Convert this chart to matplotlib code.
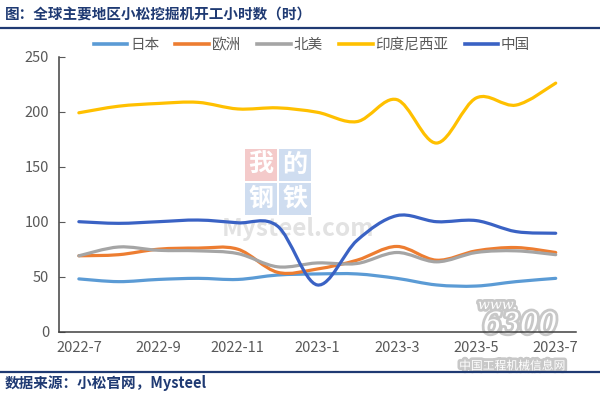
import matplotlib
matplotlib.use("Agg")
import matplotlib.pyplot as plt
from matplotlib.path import Path
from matplotlib.patches import PathPatch, Rectangle
from matplotlib.lines import Line2D
import matplotlib.patheffects as pe

plt.rcParams['font.family'] = ['Noto Sans CJK SC', 'DejaVu Sans']

months = ['2022-7', '2022-8', '2022-9', '2022-10', '2022-11', '2022-12', '2023-1',
          '2023-2', '2023-3', '2023-4', '2023-5', '2023-6', '2023-7']
japan = [48, 45.5, 47.5, 48.5, 47.5, 51.5, 52.5, 52.5, 48.5, 42.5, 41.5, 45.5, 48.5]
europe = [69, 70, 75, 76, 75, 54, 57, 65, 77.5, 65, 73.5, 76.5, 72]
north_america = [69, 77, 74, 73.5, 71, 59, 62.5, 62, 72, 63.5, 72, 73.5, 70]
indonesia = [199, 205, 207.5, 208.5, 202.5, 203.5, 199.5, 191, 211, 171.5, 212.5, 206, 226]
china = [100, 98.5, 100, 101.5, 99, 96, 42.5, 83, 105.5, 100, 101, 91, 89.5]

series_names = ['日本', '欧洲', '北美', '印度尼西亚', '中国']
series_values = [japan, europe, north_america, indonesia, china]
colors = ['#5B9BD5', '#ED7D31', '#A5A5A5', '#FFC000', '#3A62C4']
navy = '#1F3A73'
grey_txt = '#595959'


def smooth_path(xs, ys):
    # bezier segments like excel's smoothed line
    n = len(xs)
    verts = [(xs[0], ys[0])]
    codes = [Path.MOVETO]
    for i in range(n - 1):
        i0 = max(i - 1, 0)
        i3 = min(i + 2, n - 1)
        c1 = (xs[i] + (xs[i + 1] - xs[i0]) / 6, ys[i] + (ys[i + 1] - ys[i0]) / 6)
        c2 = (xs[i + 1] - (xs[i3] - xs[i]) / 6, ys[i + 1] - (ys[i3] - ys[i]) / 6)
        verts += [c1, c2, (xs[i + 1], ys[i + 1])]
        codes += [Path.CURVE4] * 3
    return Path(verts, codes)


fig = plt.figure(figsize=(6, 3.96), dpi=100)
ax = fig.add_axes([0.0983, 0.1624, 0.861, 0.6944])

x = list(range(len(months)))

# watermark in the plot area
for (cx, cy, c, ch) in [(0, 0, '#F4CACA', '我'), (1, 0, '#CFDDF0', '的'),
                        (0, 1, '#CFDDF0', '钢'), (1, 1, '#CFDDF0', '铁')]:
    px = (245 + cx * 34) / 600
    py = 1 - (148 + cy * 34 + 33) / 396
    fig.patches.append(Rectangle((px, py), 32 / 600, 32 / 396, transform=fig.transFigure,
                                 facecolor=c, edgecolor='none', zorder=-2))
    fig.text(px + 16 / 600, py + 16 / 396, ch, color='white', fontsize=18,
             ha='center', va='center', fontweight='bold', zorder=-1)
fig.text(222 / 600, 1 - 229 / 396, 'Mysteel.com', color='#E2E2E2', fontsize=17.5,
         ha='left', va='center', fontweight='bold', zorder=-1)

for name, vals, col in zip(series_names, series_values, colors):
    ax.add_patch(PathPatch(smooth_path(x, vals), fill=False, edgecolor=col,
                           linewidth=2.3, capstyle='round', zorder=3))

ax.set_xlim(-0.5, 12.5)
ax.set_ylim(0, 250)
ax.set_xticks(x[::2])
ax.set_xticklabels(months[::2])
ax.set_yticks([0, 50, 100, 150, 200, 250])
ax.tick_params(axis='x', length=0, labelsize=10.5, labelcolor=grey_txt, pad=7)
ax.tick_params(axis='y', direction='in', length=4, color=grey_txt, labelsize=10.5,
               labelcolor=grey_txt, pad=7)
for s in ['top', 'right']:
    ax.spines[s].set_visible(False)
for s in ['left', 'bottom']:
    ax.spines[s].set_color('#404040')
    ax.spines[s].set_linewidth(1.1)
ax.patch.set_alpha(0)

handles = [Line2D([], [], color=c, linewidth=2.6) for c in colors]
fig.legend(handles, series_names, loc='center', bbox_to_anchor=(312 / 600, 1 - 45 / 396),
           ncol=5, frameon=False, fontsize=10.5, handlelength=2.3, handletextpad=0.2,
           columnspacing=1.1, labelcolor=grey_txt)

# title and source
fig.text(5 / 600, 1 - 15 / 396, '图：全球主要地区小松挖掘机开工小时数（时）', color=navy,
         fontsize=10.5, fontweight='bold', ha='left', va='center')
fig.add_artist(Line2D([0, 1], [1 - 27.5 / 396] * 2, color=navy, linewidth=1.6))
fig.add_artist(Line2D([0, 1], [1 - 372 / 396] * 2, color=navy, linewidth=1.6))
fig.text(5 / 600, 1 - 383 / 396, '数据来源：小松官网，Mysteel', color=navy,
         fontsize=10.5, fontweight='bold', ha='left', va='center')

# 6300 watermark bottom right, drawn under the axes
glow = [pe.withStroke(linewidth=4, foreground='#C8C8C8')]
fig.text(478 / 600, 1 - 305 / 396, 'www.', color='white', fontsize=10, fontfamily='DejaVu Serif',
         style='italic', ha='left', va='center', path_effects=glow, zorder=-1)
fig.text(520 / 600, 1 - 325 / 396, '6300', color='white', fontsize=21, fontfamily='DejaVu Serif',
         style='italic', ha='center', va='center', path_effects=glow, zorder=-1)
fig.text(512 / 600, 1 - 366 / 396, '中国工程机械信息网', color='white', fontsize=8.5,
         ha='center', va='center', path_effects=glow, zorder=-1)

fig.savefig('out.png', dpi=100)
